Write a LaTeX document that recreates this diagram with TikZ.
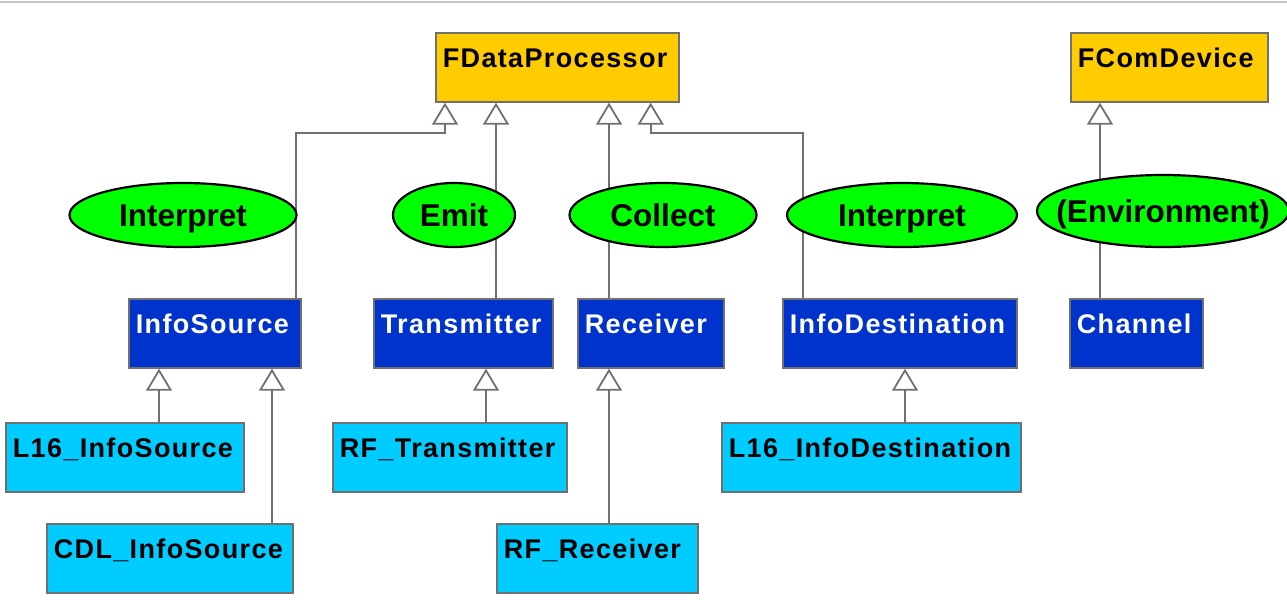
\documentclass[tikz,border=0pt]{standalone}
\usepackage{fontspec}
\setmainfont{Liberation Sans}
\newfontfamily\clsfont[LetterSpace=5]{Liberation Sans}
\usetikzlibrary{arrows.meta,shapes.geometric}
\definecolor{gold}{HTML}{FFCC00}
\definecolor{deepblue}{HTML}{0033CC}
\definecolor{skycyan}{HTML}{00CCFF}
\definecolor{rolegreen}{HTML}{00FF00}
\definecolor{linegray}{HTML}{707070}
\definecolor{rulegray}{HTML}{C8C8C8}
\hyphenpenalty=10000

\begin{document}
\begin{tikzpicture}[x=1pt, y=-1pt,
  clsbox/.style={rectangle, draw=linegray, line width=1.7pt, anchor=north west,
    inner xsep=7pt, inner ysep=0pt, text height=35pt, text depth=34pt, align=left,
    font={\clsfont\fontsize{27pt}{30pt}\selectfont\bfseries}},
  abstractcls/.style={clsbox, fill=gold, text=black},
  basecls/.style={clsbox, fill=deepblue, text=white},
  leafcls/.style={clsbox, fill=skycyan, text=black},
  role/.style={ellipse, draw=black, line width=2.2pt, fill=rolegreen,
    minimum height=64pt, inner sep=0pt, text height=23pt, text depth=0pt,
    font={\fontsize{31.5pt}{34pt}\selectfont\bfseries}},
  inh/.style={draw=linegray, line width=2pt,
    -{Triangle[open, width=26pt, length=22pt, line width=1.8pt]}}]
  \useasboundingbox (0,0) rectangle (1287,606);
  \draw[line width=1.5pt, rulegray] (0,2) -- (1287,2);

  \node[abstractcls, text width=229pt] (fdp) at (435,32) {FDataProcessor};
  \node[abstractcls, text width=183pt] (fcd) at (1070,32) {FComDevice};

  \node[basecls, text width=158pt] (isrc) at (128,298) {InfoSource};
  \node[basecls, text width=165pt] (tx) at (373,298) {Transmitter};
  \node[basecls, text width=132pt] (rx) at (577,298) {Receiver};
  \node[basecls, text width=220pt] (idst) at (782,298) {InfoDestination};
  \node[basecls, text width=119pt] (chan) at (1069,298) {Channel};

  \node[leafcls, text width=224pt] (l16s) at (5,422) {L16\_InfoSource};
  \node[leafcls, text width=232pt] (cdls) at (46,523) {CDL\_InfoSource};
  \node[leafcls, text width=220pt] (rftx) at (332,422) {RF\_Transmitter};
  \node[leafcls, text width=187pt] (rfrx) at (496,523) {RF\_Receiver};
  \node[leafcls, text width=285pt] (l16d) at (721,422) {L16\_InfoDestination};

  \coordinate (fdpin1) at ([xshift=10pt]fdp.south west);
  \coordinate (fdpin4) at ([xshift=-29pt]fdp.south east);
  \coordinate (isrcup) at ([xshift=-6pt]isrc.north east);
  \coordinate (txup) at ([xshift=123pt]tx.north west);
  \coordinate (rxup) at ([xshift=32pt]rx.north west);
  \coordinate (idstup) at ([xshift=21pt]idst.north west);
  \coordinate (chanup) at ([xshift=31pt]chan.north west);
  \coordinate (l16sup) at ([xshift=154pt]l16s.north west);
  \coordinate (cdlsup) at ([xshift=226pt]cdls.north west);
  \coordinate (rftxup) at ([xshift=154pt]rftx.north west);
  \coordinate (rfrxup) at ([xshift=113pt]rfrx.north west);
  \coordinate (l16dup) at ([xshift=184pt]l16d.north west);

  \draw[inh] (isrcup) |- ([yshift=-30pt]fdpin1) -- (fdpin1);
  \draw[inh] (txup) -- (txup |- fdp.south);
  \draw[inh] (rxup) -- (rxup |- fdp.south);
  \draw[inh] (idstup) |- ([yshift=-30pt]fdpin4) -- (fdpin4);
  \draw[inh] (chanup) -- (chanup |- fcd.south);
  \draw[inh] (l16sup) -- (l16sup |- isrc.south);
  \draw[inh] (cdlsup) -- (cdlsup |- isrc.south);
  \draw[inh] (rftxup) -- (rftxup |- tx.south);
  \draw[inh] (rfrxup) -- (rfrxup |- rx.south);
  \draw[inh] (l16dup) -- (l16dup |- idst.south);

  \node[role, minimum width=227pt] (interp1) at (183,215) {Interpret};
  \node[role, minimum width=122pt] (emit) at (454,215) {Emit};
  \node[role, minimum width=187pt] (coll) at (663,215) {Collect};
  \node[role, minimum width=230pt] (interp2) at (902,215) {Interpret};
  \node[role, minimum width=252pt, minimum height=72pt] (env) at (1163,211) {\makebox[0pt]{(Environment)}};
\end{tikzpicture}
\end{document}
